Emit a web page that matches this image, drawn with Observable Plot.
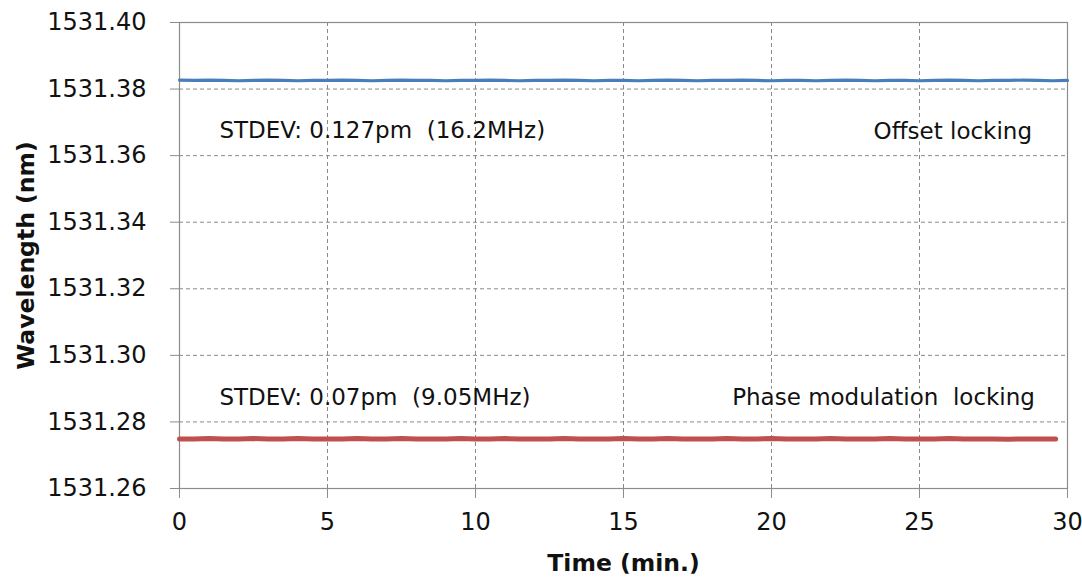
<!DOCTYPE html>
<html>
<head>
<meta charset="utf-8">
<script src="https://cdn.jsdelivr.net/npm/d3@7"></script>
<script src="https://cdn.jsdelivr.net/npm/@observablehq/plot@0.6"></script>
<style>
  html, body { margin: 0; padding: 0; background: #fff; }
  #chart { width: 1082px; height: 583px; }
</style>
</head>
<body>
<div id="chart"></div>
<script>
// Offset locking (blue) series
const offsetTime = [0,0.5,1,1.5,2,2.5,3,3.5,4,4.5,5,5.5,6,6.5,7,7.5,8,8.5,9,9.5,10,10.5,11,11.5,12,12.5,13,13.5,14,14.5,15,15.5,16,16.5,17,17.5,18,18.5,19,19.5,20,20.5,21,21.5,22,22.5,23,23.5,24,24.5,25,25.5,26,26.5,27,27.5,28,28.5,29,29.5,30];
const offsetWl = [1531.3827,1531.3826,1531.3827,1531.3826,1531.3825,1531.3826,1531.3827,1531.3826,1531.3825,1531.3826,1531.3826,1531.3827,1531.3826,1531.3825,1531.3826,1531.3827,1531.3826,1531.3826,1531.3825,1531.3826,1531.3826,1531.3827,1531.3826,1531.3825,1531.3826,1531.3826,1531.3827,1531.3826,1531.3825,1531.3826,1531.3826,1531.3825,1531.3826,1531.3827,1531.3826,1531.3825,1531.3826,1531.3826,1531.3827,1531.3826,1531.3825,1531.3826,1531.3826,1531.3825,1531.3826,1531.3827,1531.3826,1531.3825,1531.3826,1531.3826,1531.3825,1531.3826,1531.3827,1531.3826,1531.3825,1531.3826,1531.3826,1531.3827,1531.3826,1531.3825,1531.3826];

// Phase modulation locking (red) series
const phaseTime = [0,0.5,1,1.5,2,2.5,3,3.5,4,4.5,5,5.5,6,6.5,7,7.5,8,8.5,9,9.5,10,10.5,11,11.5,12,12.5,13,13.5,14,14.5,15,15.5,16,16.5,17,17.5,18,18.5,19,19.5,20,20.5,21,21.5,22,22.5,23,23.5,24,24.5,25,25.5,26,26.5,27,27.5,28,28.5,29,29.6];
const phaseWl = [1531.2749,1531.2749,1531.2750,1531.2749,1531.2749,1531.2750,1531.2749,1531.2749,1531.2750,1531.2749,1531.2749,1531.2749,1531.2750,1531.2749,1531.2749,1531.2750,1531.2749,1531.2749,1531.2749,1531.2750,1531.2749,1531.2749,1531.2750,1531.2749,1531.2749,1531.2749,1531.2750,1531.2749,1531.2749,1531.2749,1531.2750,1531.2749,1531.2749,1531.2750,1531.2749,1531.2749,1531.2749,1531.2750,1531.2749,1531.2749,1531.2750,1531.2749,1531.2749,1531.2749,1531.2750,1531.2749,1531.2749,1531.2749,1531.2750,1531.2749,1531.2749,1531.2749,1531.2750,1531.2749,1531.2749,1531.2749,1531.2748,1531.2749,1531.2749,1531.2749];

// Axis ticks
const xTicks = [0,5,10,15,20,25,30];
const yTicks = [1531.26,1531.28,1531.30,1531.32,1531.34,1531.36,1531.38,1531.40];
const xGrid = [5,10,15,20,25];
const yGrid = [1531.28,1531.30,1531.32,1531.34,1531.36,1531.38];

// Annotations
const leftNoteX = [1.35, 1.35];
const leftNoteY = [1531.3675, 1531.2872];
const leftNoteText = ["STDEV: 0.127pm\u00A0 (16.2MHz)", "STDEV: 0.07pm\u00A0 (9.05MHz)"];
const rightNoteX = [28.8, 28.9];
const rightNoteY = [1531.3672, 1531.2872];
const rightNoteText = ["Offset locking", "Phase modulation\u00A0 locking"];

const offsetData = offsetTime.map((t, i) => ({t, w: offsetWl[i]}));
const phaseData = phaseTime.map((t, i) => ({t, w: phaseWl[i]}));
const leftNotes = leftNoteText.map((s, i) => ({x: leftNoteX[i], y: leftNoteY[i], s}));
const rightNotes = rightNoteText.map((s, i) => ({x: rightNoteX[i], y: rightNoteY[i], s}));

const axisColor = "#8c8c8c";
const font = "'DejaVu Sans', Verdana, sans-serif";

const plot = Plot.plot({
  width: 1082,
  height: 583,
  marginLeft: 179,
  marginRight: 15,
  marginTop: 22,
  marginBottom: 95,
  style: {fontFamily: font, background: "#fff", color: "#111", overflow: "visible"},
  x: {domain: [0, 30]},
  y: {domain: [1531.26, 1531.40]},
  marks: [
    Plot.gridX(xGrid, {stroke: "#8a8a8a", strokeOpacity: 1, strokeDasharray: "4,3", strokeWidth: 1}),
    Plot.gridY(yGrid, {stroke: "#8a8a8a", strokeOpacity: 1, strokeDasharray: "4,3", strokeWidth: 1}),
    Plot.frame({stroke: axisColor, strokeWidth: 1.2}),
    Plot.axisX(xTicks, {
      tickSize: 10, tickPadding: 14, fontSize: 24, stroke: axisColor,
      color: "#111", tickFormat: d => String(d),
      label: "Time (min.)", labelAnchor: "center", labelArrow: "none", labelOffset: 82
    }),
    Plot.axisY(yTicks, {
      tickSize: 9, tickPadding: 24, fontSize: 24, stroke: axisColor,
      tickFormat: d => d.toFixed(2),
      label: "Wavelength (nm)", labelAnchor: "center", labelArrow: "none", labelOffset: 162
    }),
    Plot.line(offsetData, {x: "t", y: "w", stroke: "#4a7ebb", strokeWidth: 3.2}),
    Plot.line(phaseData, {x: "t", y: "w", stroke: "#c0504d", strokeWidth: 5}),
    Plot.text(leftNotes, {x: "x", y: "y", text: "s", textAnchor: "start", fontSize: 23, fill: "#111"}),
    Plot.text(rightNotes, {x: "x", y: "y", text: "s", textAnchor: "end", fontSize: 23, fill: "#111", stroke: "white", strokeWidth: 8})
  ]
});

// bold axis titles
d3.select(plot).selectAll("g[aria-label='x-axis label'] text, g[aria-label='y-axis label'] text")
  .style("font-weight", "bold").style("font-size", "23.5px");

document.getElementById("chart").appendChild(plot);
</script>
</body>
</html>
